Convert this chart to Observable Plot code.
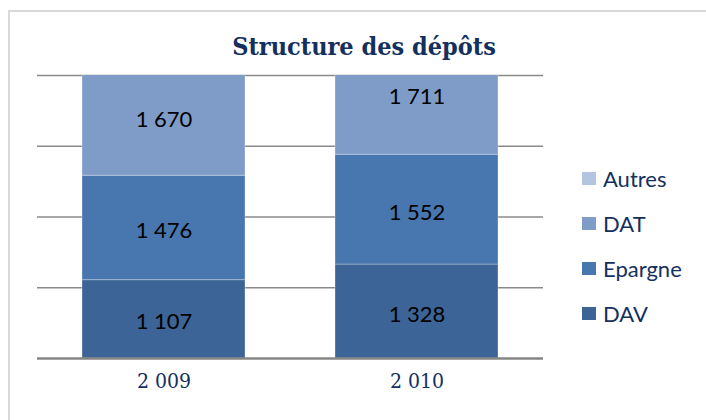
<!DOCTYPE html>
<html>
<head>
<meta charset="utf-8">
<script src="https://cdn.jsdelivr.net/npm/d3@7"></script>
<script src="https://cdn.jsdelivr.net/npm/@observablehq/plot@0.6"></script>
<style>
  html, body { margin: 0; padding: 0; background: #fff; }
  #wrap { position: relative; width: 706px; height: 420px; overflow: hidden; }
  #frame { position: absolute; left: 8px; top: 10px; width: 720px; height: 440px;
           border-left: 2px solid #d9d9d9; border-top: 2px solid #d9d9d9; }
  #title { position: absolute; left: 0; width: 728px; top: 29px; text-align: center;
           font-family: "DejaVu Serif Condensed", "DejaVu Serif", serif; font-weight: bold;
           font-size: 25px; color: #14305e; line-height: 36px; }
  #legend { position: absolute; left: 582px; top: 156px;
            font-family: Lato, "Open Sans", sans-serif; font-size: 22px; color: #14305e; }
  .item { display: flex; align-items: center; height: 45px; }
  .sw { width: 14px; height: 13px; margin-right: 7px; }
  svg { position: absolute; left: 0; top: 0; }
</style>
</head>
<body>
<div id="wrap">
  <div id="frame"></div>
  <div id="title">Structure des dépôts</div>
  <div id="legend"></div>
</div>
<script>
const categories = ["2 009", "2 010"];
const series = ["DAV", "Epargne", "DAT", "Autres"];
const dav = [1107, 1328];
const epargne = [1476, 1552];
const dat = [1670, 1711];
const autres = [null, null]; // not visible in the picture (above the clipped top)
const gridTicks = [0, 1000, 2000, 3000, 4000];
const colors = ["#3c6496", "#4876ae", "#7f9cc8", "#b4c5e2"];
const legendOrder = ["Autres", "DAT", "Epargne", "DAV"];

const values = [dav, epargne, dat, autres];
const data = categories.flatMap((c, i) =>
  series.map((s, j) => ({year: c, series: s, value: values[j][i]}))
).filter(d => d.value != null);

const fmt = d3.formatLocale({decimal: ",", thousands: " ", grouping: [3], currency: ["", ""]}).format(",");

const chart = Plot.plot({
  width: 706,
  height: 420,
  marginLeft: 37,
  marginRight: 163,
  marginTop: 75,
  marginBottom: 62,
  style: {background: "transparent"},
  x: {domain: categories, paddingInner: 0.356, paddingOuter: 0.178, axis: null},
  y: {domain: [0, 4000], axis: null},
  color: {domain: series, range: colors},
  marks: [
    Plot.ruleY(gridTicks.slice(1), {stroke: "#8a8a8a", strokeWidth: 1.5}),
    Plot.barY(data, {x: "year", y: "value", fill: "series", order: series, clip: true,
      stroke: "#ffffff", strokeOpacity: 0.3, strokeWidth: 1}),
    Plot.ruleY([0], {stroke: "#868686", strokeWidth: 2.5}),
    Plot.text(data, Plot.stackY({x: "year", y: "value", z: "series", order: series,
      text: d => fmt(d.value), dy: 3, fontSize: 22, fill: "#000",
      fontFamily: "Lato, 'Open Sans', sans-serif"})),
    Plot.text(categories, {x: d => d, frameAnchor: "bottom", dy: 29, fontSize: 21,
      fill: "#14305e", fontFamily: "'DejaVu Serif Condensed', 'DejaVu Serif', serif"})
  ]
});
document.getElementById("wrap").appendChild(chart);

const legend = document.getElementById("legend");
for (const s of legendOrder) {
  const row = document.createElement("div");
  row.className = "item";
  const sw = document.createElement("div");
  sw.className = "sw";
  sw.style.background = colors[series.indexOf(s)];
  const lab = document.createElement("span");
  lab.textContent = s;
  row.appendChild(sw);
  row.appendChild(lab);
  legend.appendChild(row);
}
</script>
</body>
</html>
